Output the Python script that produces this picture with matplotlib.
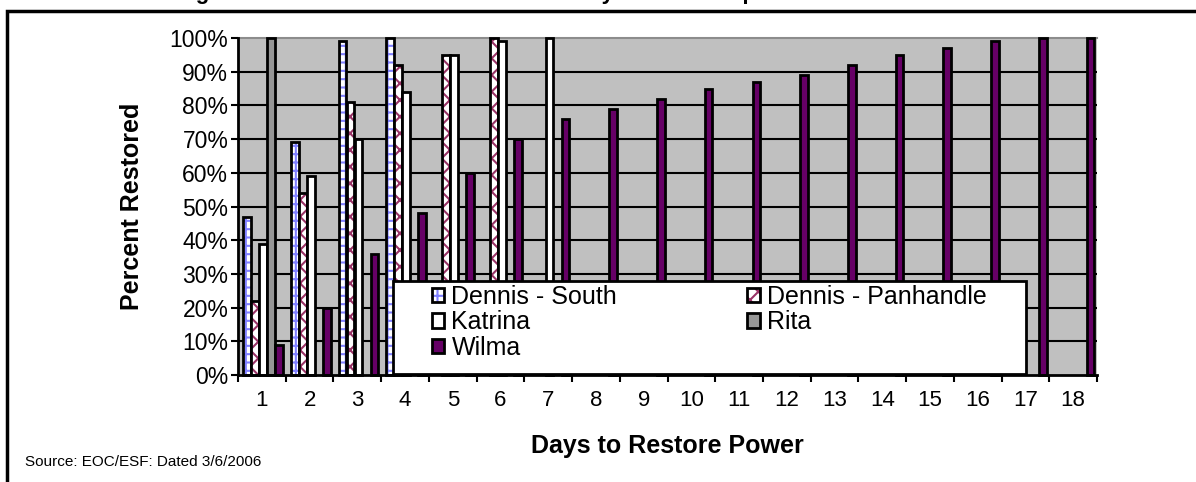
import matplotlib.pyplot as plt
import numpy as np
from matplotlib.patches import Patch, Rectangle

plt.rcParams['font.family'] = ['Liberation Sans', 'DejaVu Sans']
plt.rcParams['hatch.linewidth'] = 1.5

# Percent of customers restored, by day (series stop once they reach 100%)
days = list(range(1, 19))
dennis_south = [47, 69, 99, 100]
dennis_panhandle = [22, 54, 81, 92, 95, 100]
katrina = [39, 59, 70, 84, 95, 99, 100]
rita = [100]
wilma = [9, 20, 36, 48, 60, 70, 76, 79, 82, 85, 87, 89, 92, 95, 97, 99, 100, 100]

names = ['Dennis - South', 'Dennis - Panhandle', 'Katrina', 'Rita', 'Wilma']
values = [dennis_south, dennis_panhandle, katrina, rita, wilma]

# style per series: (face colour, hatch colour, hatch)
styles = [
    ('white', '#8080ff', '++'),
    ('white', '#993366', 'xx'),
    ('white', None, None),
    ('#969696', None, None),
    ('#660066', None, None),
]
offsets = [-0.31, -0.142, 0.026, 0.194, 0.362]
bar_w = 0.16

fig = plt.figure(figsize=(11.96, 4.82), dpi=100)
ax = fig.add_axes([238 / 1196, 1 - 375 / 482, (1097 - 238) / 1196, (375 - 38) / 482])
ax.set_facecolor('#c0c0c0')

# horizontal gridlines
for v in range(10, 100, 10):
    ax.axhline(v, color='black', lw=1.5, zorder=1)
ax.axhline(100, color='#8c8c8c', lw=1.5, zorder=1, clip_on=False)

handles = {}
for name, vals, off, (fc, hc, hatch) in zip(names, values, offsets, styles):
    x = np.array(days[:len(vals)]) + off
    if hatch:
        ax.bar(x, vals, bar_w, color='white', edgecolor=hc, hatch=hatch,
               linewidth=0, zorder=3)
        ax.bar(x, vals, bar_w, fill=False, edgecolor='black', linewidth=2,
               zorder=3, clip_on=False)
        handles[name] = (Patch(facecolor='white', edgecolor=hc, hatch=hatch, lw=0),
                         Patch(fill=False, edgecolor='black', lw=2))
    else:
        ax.bar(x, vals, bar_w, color=fc, edgecolor='black', linewidth=2,
               zorder=3, clip_on=False)
        handles[name] = Patch(facecolor=fc, edgecolor='black', lw=2)

ax.set_xlim(0.5, 18.5)
ax.set_ylim(0, 100)
ax.set_xticks(days)
ax.set_xticklabels([str(d) for d in days])
ax.set_xticks(np.arange(0.5, 19, 1), minor=True)
ax.tick_params(axis='x', which='major', length=0, pad=11, labelsize=16)
ax.tick_params(axis='x', which='minor', length=5, width=1.5, direction='out')
ax.set_yticks(range(0, 101, 10))
ax.set_yticklabels([f'{v}%' for v in range(0, 101, 10)])
ax.tick_params(axis='y', length=5, width=1.5, direction='out', labelsize=16.5, pad=2)
for s in ['top', 'right']:
    ax.spines[s].set_visible(False)
for s in ['left', 'bottom']:
    ax.spines[s].set_linewidth(2)
    ax.spines[s].set_zorder(6)

# legend box
ax.add_patch(Rectangle((0.1804, 0.004), 0.737, 0.275, transform=ax.transAxes,
                       facecolor='white', edgecolor='black', lw=2, zorder=5))
order = ['Dennis - South', 'Katrina', 'Wilma', 'Dennis - Panhandle', 'Rita']
leg = ax.legend([handles[n] for n in order], order, ncol=2, loc='upper left',
                bbox_to_anchor=(0.2258, 0.267), frameon=False, fontsize=18,
                borderpad=0, borderaxespad=0, handlelength=0.5, handleheight=0.5,
                handletextpad=0.28, columnspacing=5.2, labelspacing=0.05)
leg.set_zorder(7)

ax.set_ylabel('Percent Restored', fontsize=18, fontweight='bold')
ax.yaxis.set_label_coords(-0.11, 0.5)
fig.text(667 / 1196, 1 - 446 / 482, 'Days to Restore Power', fontsize=18,
         fontweight='bold', ha='center', va='center')
fig.text(25 / 1196, 1 - 462 / 482, 'Source: EOC/ESF: Dated 3/6/2006',
         fontsize=11, ha='left', va='center')

# title sits above the frame and is mostly cut off in the source
fig.text(614 / 1196, 1 + 1.5 / 482,
         'Figure 4: Statewide Power Restoration by Rate of Response to the 2005 Hurricanes',
         fontsize=16, fontweight='bold', ha='center', va='baseline')

# outer frame
fig.patches.append(Rectangle((7 / 1196, -0.1), 1.2, 1.1 - 11 / 482,
                             transform=fig.transFigure, fill=False,
                             edgecolor='black', lw=2.5))

fig.savefig('out.png', dpi=100)
